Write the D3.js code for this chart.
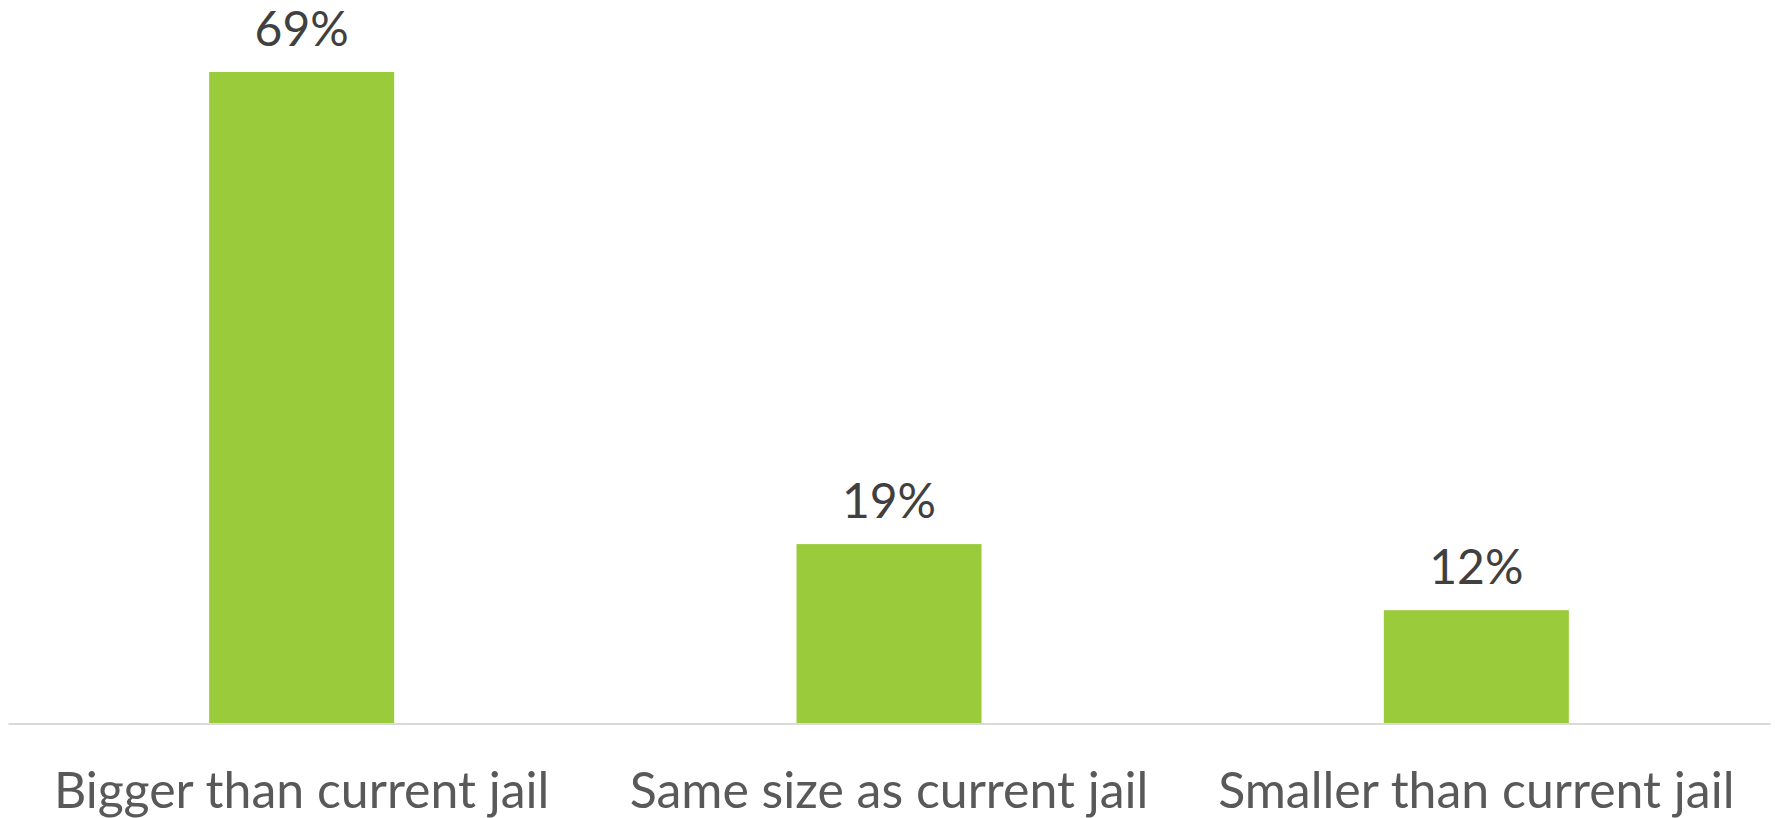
<!DOCTYPE html>
<html>
<head>
<meta charset="utf-8">
<script src="https://cdn.jsdelivr.net/npm/d3@7"></script>
<style>
  html, body { margin: 0; padding: 0; background: #fff; }
  svg { display: block; }
</style>
</head>
<body>
<div id="chart"></div>
<script>
// chart data
var categories = ["Bigger than current jail", "Same size as current jail", "Smaller than current jail"];
var values = [0.69, 0.19, 0.12];
var valueLabels = ["69%", "19%", "12%"];

var width = 1775, height = 818;
var baseY = 723.5, topY = 72;
var barColor = "#9acb3a";
var fontFam = "Lato, 'Open Sans', sans-serif";

var svg = d3.select("#chart")
  .append("svg")
  .attr("width", width)
  .attr("height", height);

var x = d3.scaleBand()
  .domain(categories)
  .range([8, 1770])
  .paddingInner(0.685)
  .paddingOuter(0.3425);

var y = d3.scaleLinear()
  .domain([0, d3.max(values)])
  .range([baseY, topY]);

var data = categories.map(function(c, i) {
  return { cat: c, val: values[i], label: valueLabels[i] };
});

// bars
svg.append("g")
  .selectAll("rect")
  .data(data)
  .enter().append("rect")
    .attr("x", function(d) { return x(d.cat); })
    .attr("y", function(d) { return y(d.val); })
    .attr("width", x.bandwidth())
    .attr("height", function(d) { return baseY - y(d.val); })
    .attr("fill", barColor);

// baseline axis
var axis = svg.append("g")
  .attr("transform", "translate(0," + baseY + ")")
  .call(d3.axisBottom(x).tickSize(0).tickPadding(0).tickFormat(""));
axis.select(".domain")
  .attr("stroke", "#d9d9d9")
  .attr("stroke-width", 2);

// category labels
svg.append("g")
  .selectAll("text")
  .data(data)
  .enter().append("text")
    .attr("x", function(d) { return x(d.cat) + x.bandwidth() / 2; })
    .attr("y", 808)
    .attr("text-anchor", "middle")
    .style("font-family", fontFam)
    .style("font-size", "50px")
    .style("fill", "#595959")
    .text(function(d) { return d.cat; });

// value labels
svg.append("g")
  .selectAll("text")
  .data(data)
  .enter().append("text")
    .attr("x", function(d) { return x(d.cat) + x.bandwidth() / 2; })
    .attr("y", function(d) { return y(d.val) - 26; })
    .attr("text-anchor", "middle")
    .style("font-family", fontFam)
    .style("font-size", "48px")
    .style("fill", "#404040")
    .text(function(d) { return d.label; });
</script>
</body>
</html>
